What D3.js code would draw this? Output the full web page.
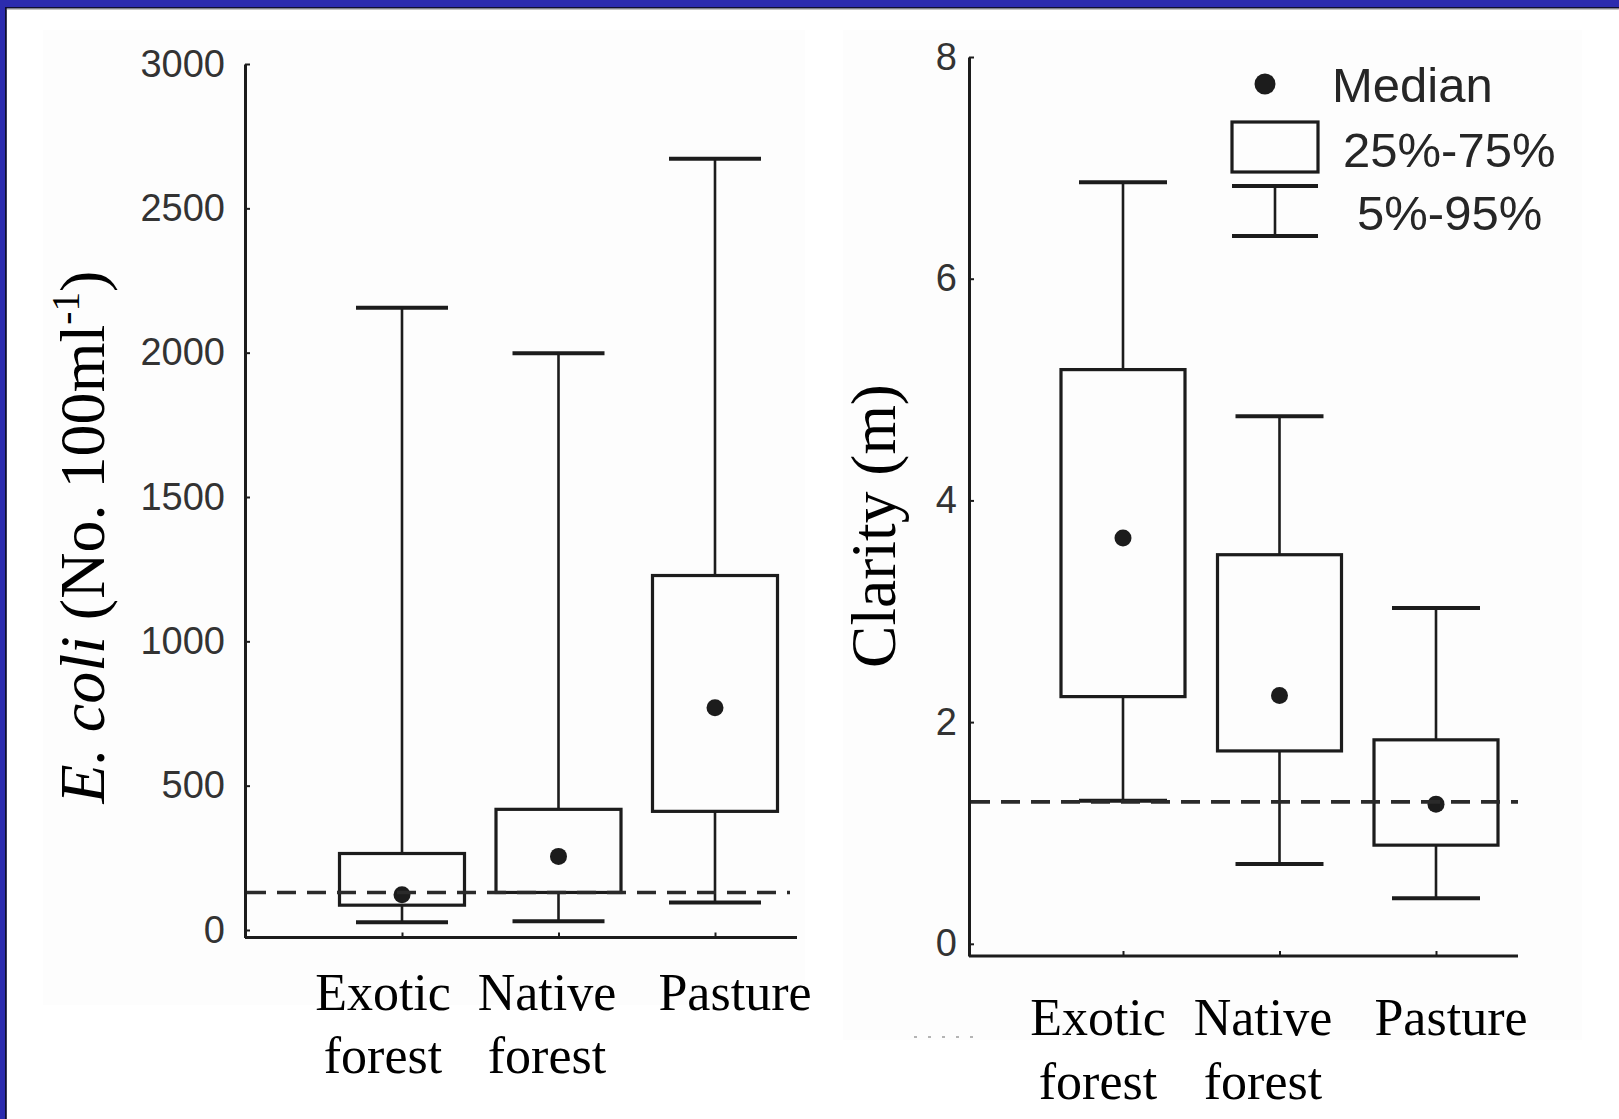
<!DOCTYPE html>
<html>
<head>
<meta charset="utf-8">
<script src="https://cdn.jsdelivr.net/npm/d3@7"></script>
<style>
  html, body { margin: 0; padding: 0; background: #ffffff; }
  svg { display: block; }
</style>
</head>
<body>
<script>
// Land-use categories
const categories = ["Exotic forest", "Native forest", "Pasture"];
const categoryLines = [["Exotic", "forest"], ["Native", "forest"], ["Pasture"]];

// E. coli (No. 100 ml-1): 5th, 25th, 50th, 75th and 95th percentiles
const ecoliP5  = [27, 30, 95];
const ecoliQ1  = [86, 130, 411];
const ecoliMed = [122, 255, 770];
const ecoliQ3  = [265, 418, 1228];
const ecoliP95 = [2156, 1998, 2672];
const ecoliGuideline = 130;
const ecoliTicks = [0, 500, 1000, 1500, 2000, 2500, 3000];

// Water clarity (m): same percentiles
const clarityP5  = [1.29, 0.72, 0.41];
const clarityQ1  = [2.23, 1.74, 0.89];
const clarityMed = [3.66, 2.24, 1.26];
const clarityQ3  = [5.18, 3.51, 1.84];
const clarityP95 = [6.87, 4.76, 3.03];
const clarityGuideline = 1.28;
const clarityTicks = [0, 2, 4, 6, 8];

// Legend entries
const legendLabels = ["Median", "25%-75%", "5%-95%"];

const W = 1619, H = 1119;
const INK = "#1c1c1c";
const SANS = "'Liberation Sans', Arial, Helvetica, sans-serif";
const SERIF = "'Liberation Serif', 'Times New Roman', Times, serif";

const svg = d3.select("body").append("svg")
  .attr("width", W).attr("height", H)
  .attr("viewBox", `0 0 ${W} ${H}`);

svg.append("rect").attr("width", W).attr("height", H).attr("fill", "#ffffff");

// Slide frame: blue band along the top and left edges
svg.append("rect").attr("x", 0).attr("y", 0).attr("width", W).attr("height", 7).attr("fill", "#2b2bae");
svg.append("rect").attr("x", 0).attr("y", 0).attr("width", 5).attr("height", H).attr("fill", "#2b2bae");
svg.append("rect").attr("x", 5).attr("y", 7).attr("width", W - 5).attr("height", 1.6).attr("fill", "#0e0e30");
svg.append("rect").attr("x", 5).attr("y", 7).attr("width", 1.8).attr("height", H - 7).attr("fill", "#0e0e30");
svg.append("rect").attr("x", 6.8).attr("y", 8.6).attr("width", W - 7).attr("height", 1).attr("fill", "#9a9a9a");

// Faint off-white backdrop behind each figure
svg.append("rect").attr("x", 43).attr("y", 30).attr("width", 762).attr("height", 975).attr("fill", "#fdfdfd");
svg.append("rect").attr("x", 843).attr("y", 30).attr("width", 739).attr("height", 1010).attr("fill", "#fdfdfd");

function buildRows(p5, q1, med, q3, p95) {
  return categories.map((c, i) => ({ cat: c, p5: p5[i], q1: q1[i], med: med[i], q3: q3[i], p95: p95[i] }));
}

function drawPanel(cfg) {
  const g = svg.append("g");
  const y = d3.scaleLinear().domain(cfg.yDomain).range(cfg.yRange);
  const x = d3.scalePoint().domain(categories).range(cfg.xRange);

  // Y axis with inward ticks and labels on the left
  const yAxis = d3.axisLeft(y)
    .tickValues(cfg.ticks)
    .tickFormat(d3.format("d"))
    .tickSizeInner(-5)
    .tickSizeOuter(0)
    .tickPadding(cfg.tickPad);
  const ya = g.append("g").attr("transform", `translate(${cfg.axisX},0)`).call(yAxis);
  ya.select(".domain").attr("stroke", INK).attr("stroke-width", 3);
  ya.selectAll(".tick line").attr("stroke", INK).attr("stroke-width", 2);
  ya.selectAll(".tick text")
    .attr("font-family", SANS)
    .attr("font-size", cfg.tickFont)
    .attr("fill", "#333333");

  // X axis line with small ticks at category centres
  const yBase = cfg.yRange[0];
  g.append("line")
    .attr("x1", cfg.axisX).attr("x2", cfg.axisRight)
    .attr("y1", yBase).attr("y2", yBase)
    .attr("stroke", INK).attr("stroke-width", 3.2);
  const xAxis = d3.axisBottom(x).tickSizeInner(-5).tickSizeOuter(0).tickFormat("");
  const xa = g.append("g").attr("transform", `translate(0,${yBase})`).call(xAxis);
  xa.select(".domain").remove();
  xa.selectAll(".tick line").attr("stroke", INK).attr("stroke-width", 2);

  const rows = buildRows(...cfg.series);
  const box = g.selectAll("g.box").data(rows).join("g").attr("class", "box");

  // Whiskers (5th-25th and 75th-95th)
  box.append("line")
    .attr("x1", d => x(d.cat)).attr("x2", d => x(d.cat))
    .attr("y1", d => y(d.p95)).attr("y2", d => y(d.q3))
    .attr("stroke", INK).attr("stroke-width", 2.6);
  box.append("line")
    .attr("x1", d => x(d.cat)).attr("x2", d => x(d.cat))
    .attr("y1", d => y(d.q1)).attr("y2", d => y(d.p5))
    .attr("stroke", INK).attr("stroke-width", 2.6);
  // Whisker caps
  ["p95", "p5"].forEach(k => {
    box.append("line")
      .attr("x1", d => x(d.cat) - cfg.capW / 2).attr("x2", d => x(d.cat) + cfg.capW / 2)
      .attr("y1", d => y(d[k])).attr("y2", d => y(d[k]))
      .attr("stroke", INK).attr("stroke-width", 4);
  });
  // Interquartile boxes
  box.append("rect")
    .attr("x", d => x(d.cat) - cfg.boxW / 2)
    .attr("width", cfg.boxW)
    .attr("y", d => y(d.q3))
    .attr("height", d => y(d.q1) - y(d.q3))
    .attr("fill", "none")
    .attr("stroke", INK).attr("stroke-width", 3.2);

  // Guideline
  g.append("line")
    .attr("x1", cfg.axisX + 2).attr("x2", cfg.dashRight)
    .attr("y1", y(cfg.guideline)).attr("y2", y(cfg.guideline))
    .attr("stroke", "#2a2a2a").attr("stroke-width", 3.6)
    .attr("stroke-dasharray", "19,11");

  // Medians
  box.append("circle")
    .attr("cx", d => x(d.cat)).attr("cy", d => y(d.med))
    .attr("r", 8.5).attr("fill", INK);

  // Category labels (two lines)
  categoryLines.forEach((lines, i) => {
    lines.forEach((t, j) => {
      g.append("text")
        .attr("x", cfg.labelX0 + cfg.labelDx[i])
        .attr("y", cfg.labelY[j])
        .attr("text-anchor", "middle")
        .attr("font-family", SERIF)
        .attr("font-size", 52)
        .attr("fill", "#000")
        .text(t);
    });
  });

  // Rotated axis title, sized to its full length
  const title = g.append("text")
    .attr("text-anchor", "middle")
    .attr("font-family", SERIF)
    .attr("font-size", 52)
    .attr("fill", "#000");
  cfg.title(title);
  const natural = title.node().getComputedTextLength();
  const k = cfg.titleLen / natural;
  title.attr("transform",
    `translate(${cfg.titleX},${cfg.titleY}) rotate(-90) scale(${k})`);
}

drawPanel({
  series: [ecoliP5, ecoliQ1, ecoliMed, ecoliQ3, ecoliP95],
  guideline: ecoliGuideline,
  ticks: ecoliTicks,
  yDomain: [-26, 3000], yRange: [937.5, 64],
  xRange: [402, 715],
  axisX: 245, axisRight: 797, dashRight: 790,
  tickPad: 20, tickFont: 38,
  boxW: 125, capW: 92,
  labelX0: 383, labelDx: [0, 164, 352], labelY: [1010, 1073],
  titleX: 104, titleY: 537, titleLen: 533,
  title: t => {
    t.append("tspan").attr("font-style", "italic").text("E. coli");
    t.append("tspan").text(" (No. 100ml");
    t.append("tspan").attr("font-size", 32).attr("dy", -20).text("-1");
    t.append("tspan").attr("dy", 20).text(")");
  }
});

drawPanel({
  series: [clarityP5, clarityQ1, clarityMed, clarityQ3, clarityP95],
  guideline: clarityGuideline,
  ticks: clarityTicks,
  yDomain: [-0.11, 8], yRange: [956, 57],
  xRange: [1123, 1436],
  axisX: 969, axisRight: 1518, dashRight: 1518,
  tickPad: 12, tickFont: 38,
  boxW: 124, capW: 88,
  labelX0: 1098, labelDx: [0, 165, 353], labelY: [1035, 1099],
  titleX: 895, titleY: 526, titleLen: 284,
  title: t => { t.text("Clarity (m)"); }
});

// Faint dotted mark below the clarity axis
svg.append("line")
  .attr("x1", 914).attr("x2", 984).attr("y1", 1037).attr("y2", 1037)
  .attr("stroke", "#b4b4b4").attr("stroke-width", 2)
  .attr("stroke-dasharray", "3,11");

// Legend
const lg = svg.append("g").attr("class", "legend");
const legendTextX = [1332, 1343, 1357];
const legendBaseY = [102, 167, 230];
lg.append("circle").attr("cx", 1265).attr("cy", 84).attr("r", 10.5).attr("fill", INK);
lg.append("rect").attr("x", 1232).attr("y", 122).attr("width", 86).attr("height", 50)
  .attr("fill", "none").attr("stroke", INK).attr("stroke-width", 3.2);
lg.append("line").attr("x1", 1232).attr("x2", 1318).attr("y1", 186).attr("y2", 186)
  .attr("stroke", INK).attr("stroke-width", 4);
lg.append("line").attr("x1", 1275).attr("x2", 1275).attr("y1", 186).attr("y2", 236)
  .attr("stroke", INK).attr("stroke-width", 2.6);
lg.append("line").attr("x1", 1232).attr("x2", 1318).attr("y1", 236).attr("y2", 236)
  .attr("stroke", INK).attr("stroke-width", 4);
lg.selectAll("text").data(legendLabels).join("text")
  .attr("x", (d, i) => legendTextX[i])
  .attr("y", (d, i) => legendBaseY[i])
  .attr("font-family", SANS)
  .attr("font-size", 49)
  .attr("fill", "#262626")
  .text(d => d);
</script>
</body>
</html>
